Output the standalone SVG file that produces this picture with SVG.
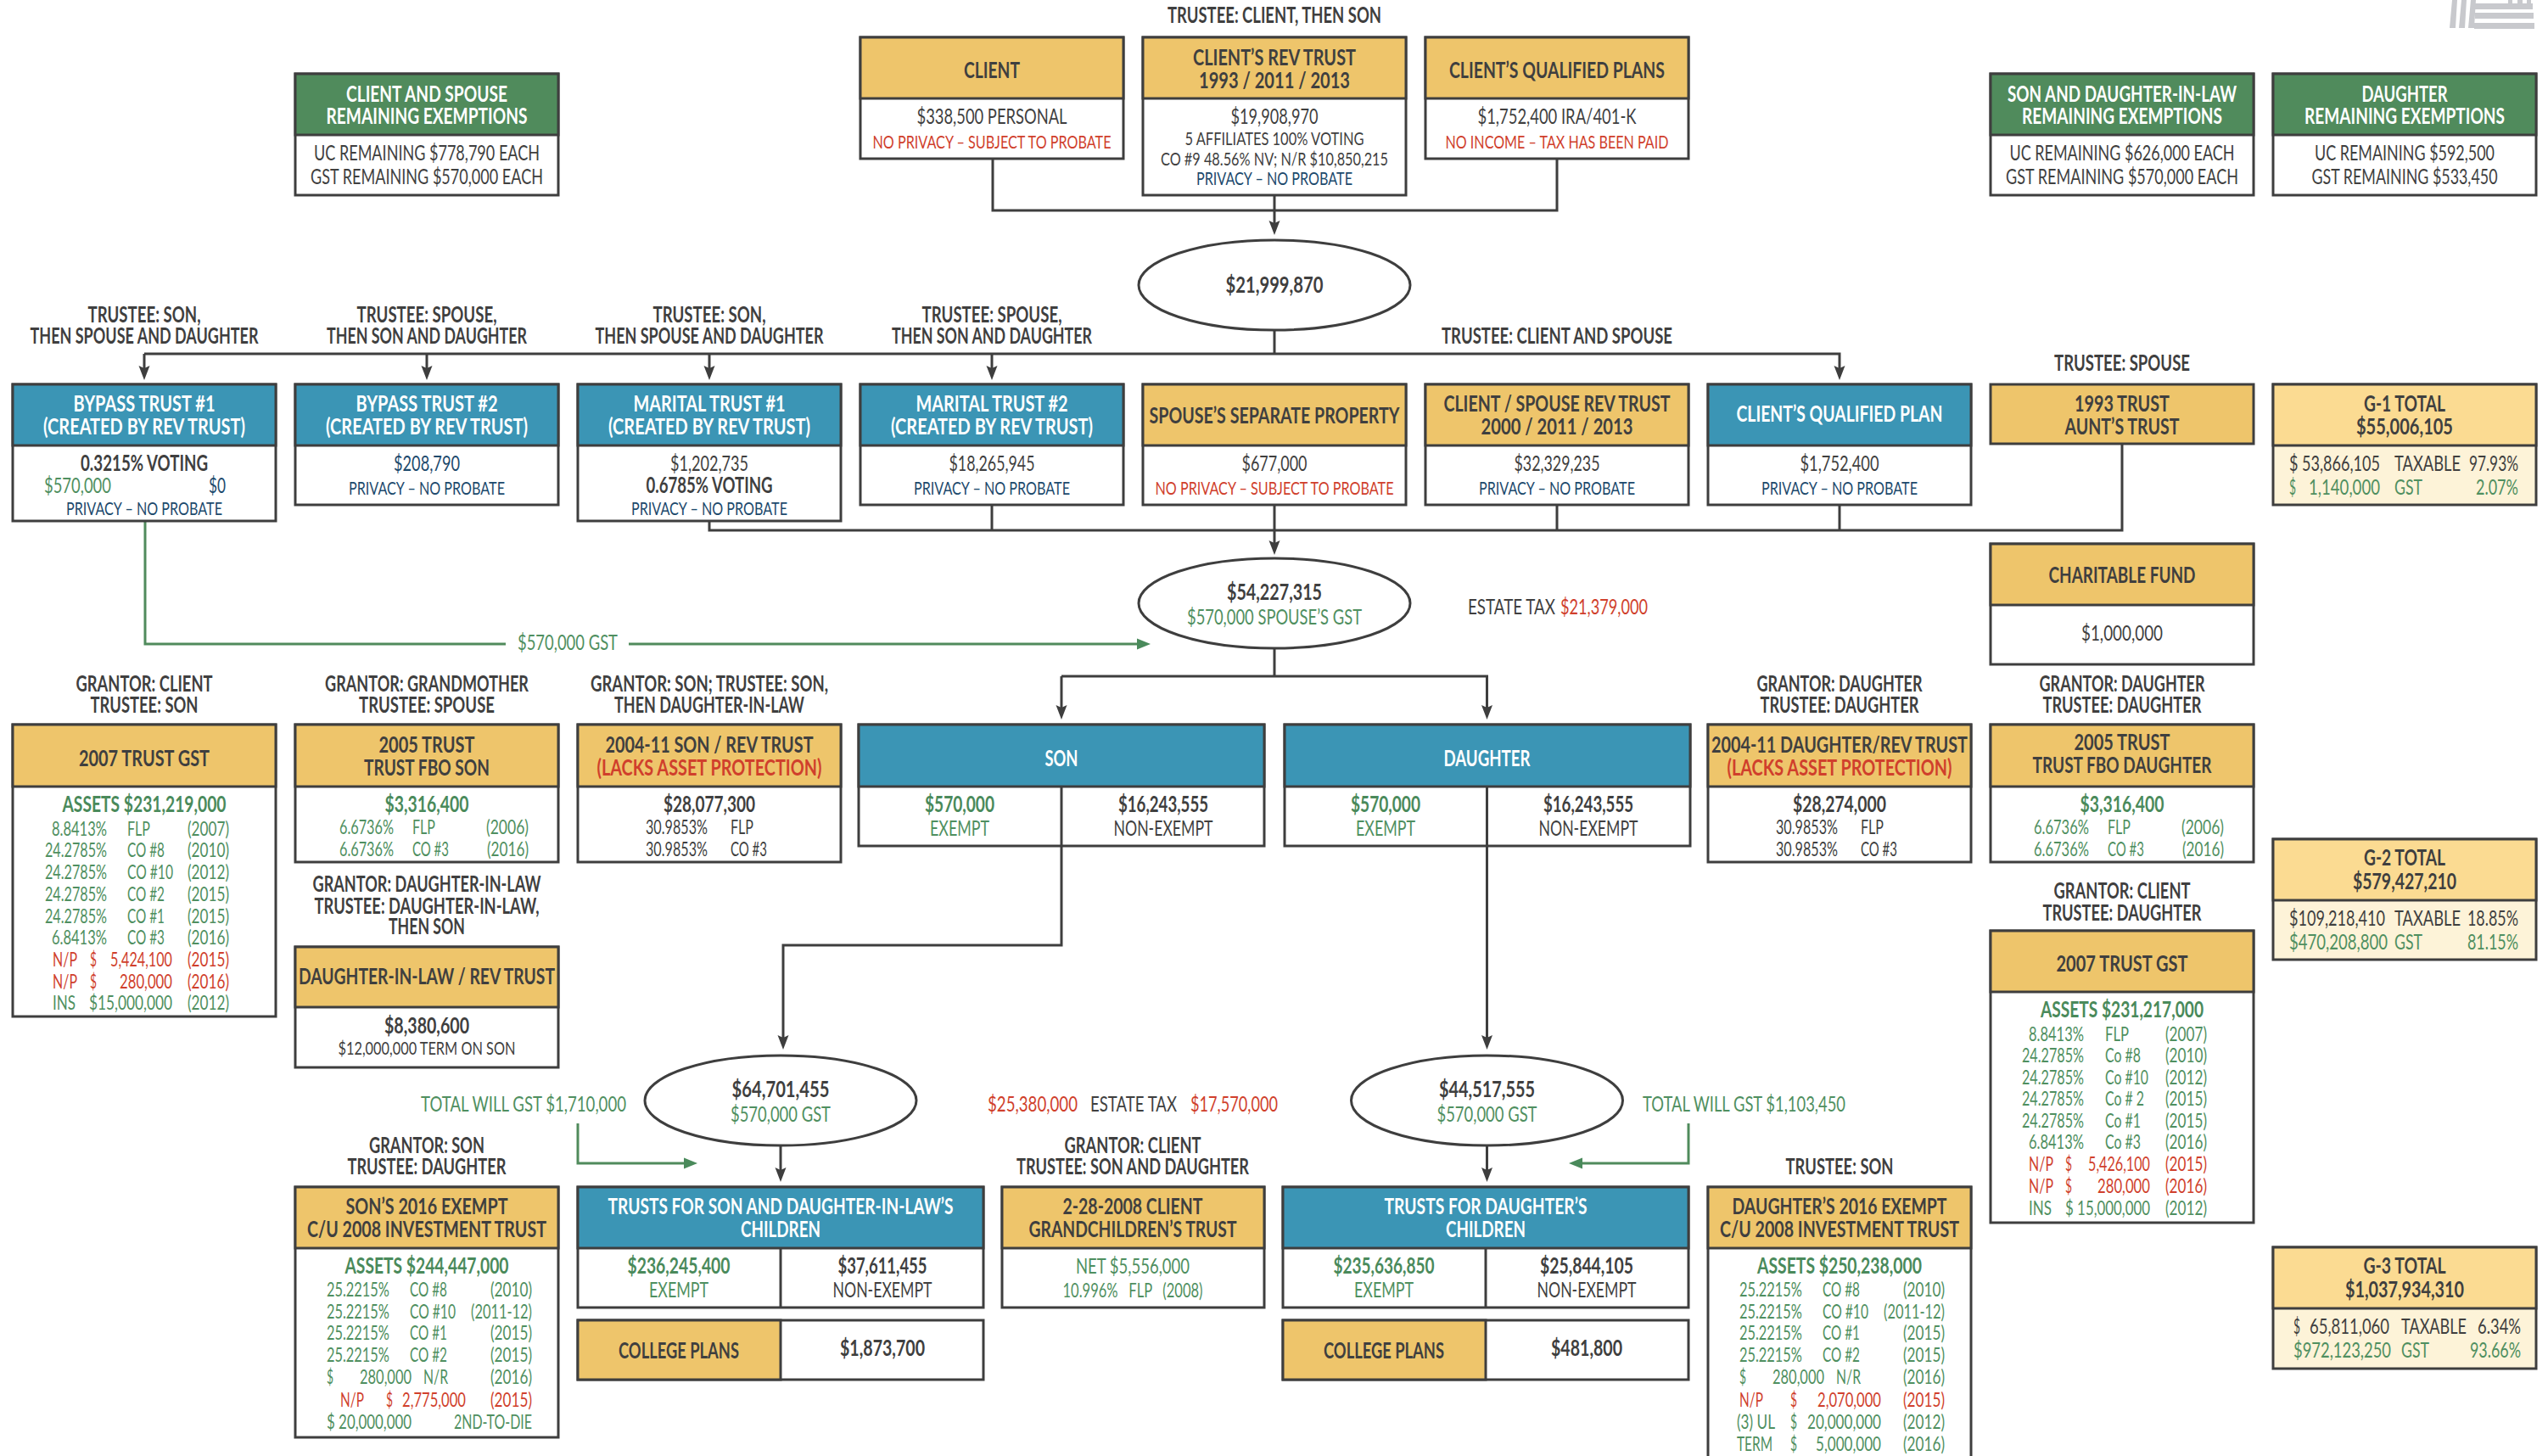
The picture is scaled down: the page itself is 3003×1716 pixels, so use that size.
<svg xmlns="http://www.w3.org/2000/svg" width="3003" height="1716" viewBox="0 0 3003 1716">
<style>
text{font-family:"Lato","Noto Sans",sans-serif;font-size:25px;fill:#3f3f3f}
.m{text-anchor:middle}.e{text-anchor:end}
.b{font-weight:700;font-size:26px}.z{font-size:23px}.x{font-size:22px}
.w{fill:#fff}.r{fill:#d03f2c}.n{fill:#1d4a6d}.g{fill:#4f8f60}
.gb{fill:#4a8a5b}
rect{stroke:#3e3e3e;stroke-width:3}
.o{fill:#fff}.go{fill:#eec56b}.bl{fill:#3b95b5}.gr{fill:#508b5c}.lg{fill:#fbdb92}.pl{fill:#fdf3d8}
ellipse{fill:#fff;stroke:#3e3e3e;stroke-width:3}
.c{fill:none;stroke:#3e3e3e;stroke-width:3}
.cg{fill:none;stroke:#508b5c;stroke-width:3}
.wm{fill:#c8c9cd}
</style>
<defs>
<marker id="a" markerUnits="userSpaceOnUse" markerWidth="20" markerHeight="14" refX="11" refY="7" orient="auto"><path d="M0,0.5L17,7L0,13.5L3,7z" fill="#3e3e3e"/></marker>
<marker id="ag" markerUnits="userSpaceOnUse" markerWidth="18" markerHeight="14" refX="11" refY="7" orient="auto"><path d="M0,0.5L16,7L0,13.5z" fill="#4a8a5b"/></marker>
</defs>
<rect width="3003" height="1716" style="fill:#fff;stroke:none"/>
<g id="watermark">
<path class="wm" d="M2890,0h6l-2,33h-7zM2901,0h6l-2,33h-7zM2912,0h6l-2,33h-7zM2917,4h68v7h-68zM2917,15h69v7h-69zM2916,27h71v7h-71zM2956,0h5v4h-5zM2967,0h6v4h-6zM2978,0h5v4h-5z"/>
</g>
<g id="connectors">
<path class="c" d="M1170,187V248H1835V187"/>
<path class="c" d="M1502,230V271" marker-end="url(#a)"/>
<path class="c" d="M1502,389V417"/>
<path class="c" d="M170,417H2168V442" marker-end="url(#a)"/>
<path class="c" d="M170,417V442" marker-end="url(#a)"/>
<path class="c" d="M503,417V442" marker-end="url(#a)"/>
<path class="c" d="M836,417V442" marker-end="url(#a)"/>
<path class="c" d="M1169,417V442" marker-end="url(#a)"/>
<path class="c" d="M836,614V625H2501V523"/>
<path class="c" d="M1169,595V625M1835,595V625M2168,595V625"/>
<path class="c" d="M1502,595V648" marker-end="url(#a)"/>
<path class="c" d="M1502,764V797"/>
<path class="c" d="M1251,797H1752.500V842" marker-end="url(#a)"/>
<path class="c" d="M1251,797V842" marker-end="url(#a)"/>
<path class="cg" d="M171,614V759H596"/>
<path class="cg" d="M741,759H1351" marker-end="url(#ag)"/>
<path class="c" d="M1251,997V1114H923V1231" marker-end="url(#a)"/>
<path class="c" d="M1752.500,997V1231" marker-end="url(#a)"/>
<path class="c" d="M920,1350V1387" marker-end="url(#a)"/>
<path class="c" d="M1752.500,1350V1387" marker-end="url(#a)"/>
<path class="cg" d="M681,1324V1371H817" marker-end="url(#ag)"/>
<path class="cg" d="M1990,1324V1371H1854" marker-end="url(#ag)"/>
</g>
<g id="flow-labels">
<text x="1502" y="27" class="b m" textLength="252" lengthAdjust="spacingAndGlyphs">TRUSTEE: CLIENT, THEN SON</text>
<text x="170" y="380" class="b m" textLength="133" lengthAdjust="spacingAndGlyphs">TRUSTEE: SON,</text>
<text x="170" y="405" class="b m" textLength="269" lengthAdjust="spacingAndGlyphs">THEN SPOUSE AND DAUGHTER</text>
<text x="503" y="380" class="b m" textLength="165" lengthAdjust="spacingAndGlyphs">TRUSTEE: SPOUSE,</text>
<text x="503" y="405" class="b m" textLength="236" lengthAdjust="spacingAndGlyphs">THEN SON AND DAUGHTER</text>
<text x="836" y="380" class="b m" textLength="133" lengthAdjust="spacingAndGlyphs">TRUSTEE: SON,</text>
<text x="836" y="405" class="b m" textLength="269" lengthAdjust="spacingAndGlyphs">THEN SPOUSE AND DAUGHTER</text>
<text x="1169" y="380" class="b m" textLength="165" lengthAdjust="spacingAndGlyphs">TRUSTEE: SPOUSE,</text>
<text x="1169" y="405" class="b m" textLength="236" lengthAdjust="spacingAndGlyphs">THEN SON AND DAUGHTER</text>
<text x="1835" y="405" class="b m" textLength="272" lengthAdjust="spacingAndGlyphs">TRUSTEE: CLIENT AND SPOUSE</text>
<text x="2501" y="437" class="b m" textLength="160" lengthAdjust="spacingAndGlyphs">TRUSTEE: SPOUSE</text>
<text x="610" y="766" class="g" textLength="118" lengthAdjust="spacingAndGlyphs">$570,000 GST</text>
<text x="1730" y="724" textLength="103" lengthAdjust="spacingAndGlyphs">ESTATE TAX</text>
<text x="1839" y="724" class="r" textLength="103" lengthAdjust="spacingAndGlyphs">$21,379,000</text>
<text x="170" y="815" class="b m" textLength="161" lengthAdjust="spacingAndGlyphs">GRANTOR: CLIENT</text>
<text x="170" y="840" class="b m" textLength="127" lengthAdjust="spacingAndGlyphs">TRUSTEE: SON</text>
<text x="503" y="815" class="b m" textLength="240" lengthAdjust="spacingAndGlyphs">GRANTOR: GRANDMOTHER</text>
<text x="503" y="840" class="b m" textLength="160" lengthAdjust="spacingAndGlyphs">TRUSTEE: SPOUSE</text>
<text x="836" y="815" class="b m" textLength="280" lengthAdjust="spacingAndGlyphs">GRANTOR: SON; TRUSTEE: SON,</text>
<text x="836" y="840" class="b m" textLength="224" lengthAdjust="spacingAndGlyphs">THEN DAUGHTER-IN-LAW</text>
<text x="2168" y="815" class="b m" textLength="195" lengthAdjust="spacingAndGlyphs">GRANTOR: DAUGHTER</text>
<text x="2168" y="840" class="b m" textLength="187" lengthAdjust="spacingAndGlyphs">TRUSTEE: DAUGHTER</text>
<text x="2501" y="815" class="b m" textLength="195" lengthAdjust="spacingAndGlyphs">GRANTOR: DAUGHTER</text>
<text x="2501" y="840" class="b m" textLength="187" lengthAdjust="spacingAndGlyphs">TRUSTEE: DAUGHTER</text>
<text x="503" y="1051" class="b m" textLength="269" lengthAdjust="spacingAndGlyphs">GRANTOR: DAUGHTER-IN-LAW</text>
<text x="503" y="1077" class="b m" textLength="265" lengthAdjust="spacingAndGlyphs">TRUSTEE: DAUGHTER-IN-LAW,</text>
<text x="503" y="1101" class="b m" textLength="90" lengthAdjust="spacingAndGlyphs">THEN SON</text>
<text x="2501" y="1059" class="b m" textLength="161" lengthAdjust="spacingAndGlyphs">GRANTOR: CLIENT</text>
<text x="2501" y="1085" class="b m" textLength="187" lengthAdjust="spacingAndGlyphs">TRUSTEE: DAUGHTER</text>
<text x="496" y="1310" class="g" textLength="242" lengthAdjust="spacingAndGlyphs">TOTAL WILL GST $1,710,000</text>
<text x="1936" y="1310" class="g" textLength="239" lengthAdjust="spacingAndGlyphs">TOTAL WILL GST $1,103,450</text>
<text x="1164" y="1310" class="r" textLength="106" lengthAdjust="spacingAndGlyphs">$25,380,000</text>
<text x="1285" y="1310" textLength="102" lengthAdjust="spacingAndGlyphs">ESTATE TAX</text>
<text x="1403" y="1310" class="r" textLength="103" lengthAdjust="spacingAndGlyphs">$17,570,000</text>
<text x="503" y="1359" class="b m" textLength="136" lengthAdjust="spacingAndGlyphs">GRANTOR: SON</text>
<text x="503" y="1384" class="b m" textLength="187" lengthAdjust="spacingAndGlyphs">TRUSTEE: DAUGHTER</text>
<text x="1335" y="1359" class="b m" textLength="161" lengthAdjust="spacingAndGlyphs">GRANTOR: CLIENT</text>
<text x="1335" y="1384" class="b m" textLength="274" lengthAdjust="spacingAndGlyphs">TRUSTEE: SON AND DAUGHTER</text>
<text x="2168" y="1384" class="b m" textLength="127" lengthAdjust="spacingAndGlyphs">TRUSTEE: SON</text>
</g>
<g id="client">
<rect class="o" x="1014" y="44" width="310" height="143"/><rect class="go" x="1014" y="44" width="310" height="72"/>
<text x="1169" y="92" class="b m" textLength="66" lengthAdjust="spacingAndGlyphs">CLIENT</text>
<text x="1169" y="146" class="m" textLength="177" lengthAdjust="spacingAndGlyphs">$338,500 PERSONAL</text>
<text x="1169" y="175" class="x m r" textLength="281" lengthAdjust="spacingAndGlyphs">NO PRIVACY – SUBJECT TO PROBATE</text>
</g>
<g id="rev-trust">
<rect class="o" x="1347" y="44" width="310" height="186"/><rect class="go" x="1347" y="44" width="310" height="72"/>
<text x="1502" y="77" class="b m" textLength="192" lengthAdjust="spacingAndGlyphs">CLIENT’S REV TRUST</text>
<text x="1502" y="104" class="b m" textLength="178" lengthAdjust="spacingAndGlyphs">1993 / 2011 / 2013</text>
<text x="1502" y="146" class="m" textLength="103" lengthAdjust="spacingAndGlyphs">$19,908,970</text>
<text x="1502" y="171" class="x m" textLength="211" lengthAdjust="spacingAndGlyphs">5 AFFILIATES 100% VOTING</text>
<text x="1502" y="195" class="x m" textLength="268" lengthAdjust="spacingAndGlyphs">CO #9 48.56% NV; N/R $10,850,215</text>
<text x="1502" y="218" class="x m n" textLength="184" lengthAdjust="spacingAndGlyphs">PRIVACY – NO PROBATE</text>
</g>
<g id="qualified-plans">
<rect class="o" x="1680" y="44" width="310" height="143"/><rect class="go" x="1680" y="44" width="310" height="72"/>
<text x="1835" y="92" class="b m" textLength="254" lengthAdjust="spacingAndGlyphs">CLIENT’S QUALIFIED PLANS</text>
<text x="1835" y="146" class="m" textLength="187" lengthAdjust="spacingAndGlyphs">$1,752,400 IRA/401-K</text>
<text x="1835" y="175" class="x m r" textLength="263" lengthAdjust="spacingAndGlyphs">NO INCOME – TAX HAS BEEN PAID</text>
</g>
<g id="exempt-client">
<rect class="o" x="348" y="87" width="310" height="143"/><rect class="gr" x="348" y="87" width="310" height="72"/>
<text x="503" y="120" class="b m w" textLength="190" lengthAdjust="spacingAndGlyphs">CLIENT AND SPOUSE</text>
<text x="503" y="146" class="b m w" textLength="237" lengthAdjust="spacingAndGlyphs">REMAINING EXEMPTIONS</text>
<text x="503" y="189" class="m" textLength="266" lengthAdjust="spacingAndGlyphs">UC REMAINING $778,790 EACH</text>
<text x="503" y="217" class="m" textLength="274" lengthAdjust="spacingAndGlyphs">GST REMAINING $570,000 EACH</text>
</g>
<g id="exempt-son">
<rect class="o" x="2346" y="87" width="310" height="143"/><rect class="gr" x="2346" y="87" width="310" height="72"/>
<text x="2501" y="120" class="b m w" textLength="270" lengthAdjust="spacingAndGlyphs">SON AND DAUGHTER-IN-LAW</text>
<text x="2501" y="146" class="b m w" textLength="236" lengthAdjust="spacingAndGlyphs">REMAINING EXEMPTIONS</text>
<text x="2501" y="189" class="m" textLength="265" lengthAdjust="spacingAndGlyphs">UC REMAINING $626,000 EACH</text>
<text x="2501" y="217" class="m" textLength="274" lengthAdjust="spacingAndGlyphs">GST REMAINING $570,000 EACH</text>
</g>
<g id="exempt-daughter">
<rect class="o" x="2679" y="87" width="310" height="143"/><rect class="gr" x="2679" y="87" width="310" height="72"/>
<text x="2834" y="120" class="b m w" textLength="101" lengthAdjust="spacingAndGlyphs">DAUGHTER</text>
<text x="2834" y="146" class="b m w" textLength="236" lengthAdjust="spacingAndGlyphs">REMAINING EXEMPTIONS</text>
<text x="2834" y="189" class="m" textLength="212" lengthAdjust="spacingAndGlyphs">UC REMAINING $592,500</text>
<text x="2834" y="217" class="m" textLength="219" lengthAdjust="spacingAndGlyphs">GST REMAINING $533,450</text>
</g>
<g id="total-1">
<ellipse cx="1502" cy="336" rx="160" ry="53"/>
<text x="1502" y="345" class="b m" textLength="115" lengthAdjust="spacingAndGlyphs">$21,999,870</text>
</g>
<g id="bypass-1">
<rect class="o" x="15" y="453" width="310" height="161"/><rect class="bl" x="15" y="453" width="310" height="72"/>
<text x="170" y="485" class="b m w" textLength="167" lengthAdjust="spacingAndGlyphs">BYPASS TRUST #1</text>
<text x="170" y="512" class="b m w" textLength="238" lengthAdjust="spacingAndGlyphs">(CREATED BY REV TRUST)</text>
<text x="170" y="555" class="b m" textLength="150" lengthAdjust="spacingAndGlyphs">0.3215% VOTING</text>
<text x="52" y="581" class="g" textLength="79" lengthAdjust="spacingAndGlyphs">$570,000</text>
<text x="246" y="581" class="n" textLength="20" lengthAdjust="spacingAndGlyphs">$0</text>
<text x="170" y="607" class="x m n" textLength="184" lengthAdjust="spacingAndGlyphs">PRIVACY – NO PROBATE</text>
</g>
<g id="bypass-2">
<rect class="o" x="348" y="453" width="310" height="142"/><rect class="bl" x="348" y="453" width="310" height="72"/>
<text x="503" y="485" class="b m w" textLength="167" lengthAdjust="spacingAndGlyphs">BYPASS TRUST #2</text>
<text x="503" y="512" class="b m w" textLength="238" lengthAdjust="spacingAndGlyphs">(CREATED BY REV TRUST)</text>
<text x="503" y="555" class="m n" textLength="78" lengthAdjust="spacingAndGlyphs">$208,790</text>
<text x="503" y="583" class="x m n" textLength="184" lengthAdjust="spacingAndGlyphs">PRIVACY – NO PROBATE</text>
</g>
<g id="marital-1">
<rect class="o" x="681" y="453" width="310" height="161"/><rect class="bl" x="681" y="453" width="310" height="72"/>
<text x="836" y="485" class="b m w" textLength="179" lengthAdjust="spacingAndGlyphs">MARITAL TRUST #1</text>
<text x="836" y="512" class="b m w" textLength="238" lengthAdjust="spacingAndGlyphs">(CREATED BY REV TRUST)</text>
<text x="836" y="555" class="m" textLength="92" lengthAdjust="spacingAndGlyphs">$1,202,735</text>
<text x="836" y="581" class="b m" textLength="149" lengthAdjust="spacingAndGlyphs">0.6785% VOTING</text>
<text x="836" y="607" class="x m n" textLength="184" lengthAdjust="spacingAndGlyphs">PRIVACY – NO PROBATE</text>
</g>
<g id="marital-2">
<rect class="o" x="1014" y="453" width="310" height="142"/><rect class="bl" x="1014" y="453" width="310" height="72"/>
<text x="1169" y="485" class="b m w" textLength="179" lengthAdjust="spacingAndGlyphs">MARITAL TRUST #2</text>
<text x="1169" y="512" class="b m w" textLength="238" lengthAdjust="spacingAndGlyphs">(CREATED BY REV TRUST)</text>
<text x="1169" y="555" class="m" textLength="101" lengthAdjust="spacingAndGlyphs">$18,265,945</text>
<text x="1169" y="583" class="x m n" textLength="184" lengthAdjust="spacingAndGlyphs">PRIVACY – NO PROBATE</text>
</g>
<g id="spouse-property">
<rect class="o" x="1347" y="453" width="310" height="142"/><rect class="go" x="1347" y="453" width="310" height="72"/>
<text x="1502" y="499" class="b m" textLength="295" lengthAdjust="spacingAndGlyphs">SPOUSE’S SEPARATE PROPERTY</text>
<text x="1502" y="555" class="m" textLength="77" lengthAdjust="spacingAndGlyphs">$677,000</text>
<text x="1502" y="583" class="x m r" textLength="281" lengthAdjust="spacingAndGlyphs">NO PRIVACY – SUBJECT TO PROBATE</text>
</g>
<g id="client-spouse-rev">
<rect class="o" x="1680" y="453" width="310" height="142"/><rect class="go" x="1680" y="453" width="310" height="72"/>
<text x="1835" y="485" class="b m" textLength="267" lengthAdjust="spacingAndGlyphs">CLIENT / SPOUSE REV TRUST</text>
<text x="1835" y="512" class="b m" textLength="179" lengthAdjust="spacingAndGlyphs">2000 / 2011 / 2013</text>
<text x="1835" y="555" class="m" textLength="101" lengthAdjust="spacingAndGlyphs">$32,329,235</text>
<text x="1835" y="583" class="x m n" textLength="184" lengthAdjust="spacingAndGlyphs">PRIVACY – NO PROBATE</text>
</g>
<g id="qualified-plan">
<rect class="o" x="2013" y="453" width="310" height="142"/><rect class="bl" x="2013" y="453" width="310" height="72"/>
<text x="2168" y="497" class="b m w" textLength="243" lengthAdjust="spacingAndGlyphs">CLIENT’S QUALIFIED PLAN</text>
<text x="2168" y="555" class="m" textLength="93" lengthAdjust="spacingAndGlyphs">$1,752,400</text>
<text x="2168" y="583" class="x m n" textLength="184" lengthAdjust="spacingAndGlyphs">PRIVACY – NO PROBATE</text>
</g>
<g id="aunt-trust">
<rect class="go" x="2346" y="453" width="310" height="70"/>
<text x="2501" y="485" class="b m" textLength="112" lengthAdjust="spacingAndGlyphs">1993 TRUST</text>
<text x="2501" y="512" class="b m" textLength="135" lengthAdjust="spacingAndGlyphs">AUNT’S TRUST</text>
</g>
<g id="g1-total">
<rect class="pl" x="2679" y="453" width="310" height="142"/><rect class="lg" x="2679" y="453" width="310" height="72"/>
<text x="2834" y="485" class="b m" textLength="96" lengthAdjust="spacingAndGlyphs">G-1 TOTAL</text>
<text x="2834" y="512" class="b m" textLength="114" lengthAdjust="spacingAndGlyphs">$55,006,105</text>
<text x="2698" y="555" textLength="107" lengthAdjust="spacingAndGlyphs">$ 53,866,105</text>
<text x="2822" y="555" textLength="78" lengthAdjust="spacingAndGlyphs">TAXABLE</text>
<text x="2968" y="555" class="e" textLength="58" lengthAdjust="spacingAndGlyphs">97.93%</text>
<text x="2698" y="583" class="g" textLength="8" lengthAdjust="spacingAndGlyphs">$</text>
<text x="2721" y="583" class="g" textLength="84" lengthAdjust="spacingAndGlyphs">1,140,000</text>
<text x="2822" y="583" class="g" textLength="33" lengthAdjust="spacingAndGlyphs">GST</text>
<text x="2968" y="583" class="g e" textLength="50" lengthAdjust="spacingAndGlyphs">2.07%</text>
</g>
<g id="total-2">
<ellipse cx="1502" cy="711" rx="160" ry="53"/>
<text x="1502" y="707" class="b m" textLength="112" lengthAdjust="spacingAndGlyphs">$54,227,315</text>
<text x="1502" y="736" class="m g" textLength="206" lengthAdjust="spacingAndGlyphs">$570,000 SPOUSE’S GST</text>
</g>
<g id="charitable">
<rect class="o" x="2346" y="641" width="310" height="142"/><rect class="go" x="2346" y="641" width="310" height="72"/>
<text x="2501" y="687" class="b m" textLength="173" lengthAdjust="spacingAndGlyphs">CHARITABLE FUND</text>
<text x="2501" y="755" class="m" textLength="96" lengthAdjust="spacingAndGlyphs">$1,000,000</text>
</g>
<g id="trust-2007-son">
<rect class="o" x="15" y="854" width="310" height="344"/><rect class="go" x="15" y="854" width="310" height="73"/>
<text x="170" y="903" class="b m" textLength="154" lengthAdjust="spacingAndGlyphs">2007 TRUST GST</text>
<text x="170" y="957" class="b m gb" textLength="193" lengthAdjust="spacingAndGlyphs">ASSETS $231,219,000</text>
<text x="126" y="985" class="z e g" textLength="65" lengthAdjust="spacingAndGlyphs">8.8413%</text><text x="150" y="985" class="z g" textLength="27" lengthAdjust="spacingAndGlyphs">FLP</text><text x="270" y="985" class="z e g" textLength="49" lengthAdjust="spacingAndGlyphs">(2007)</text>
<text x="126" y="1010" class="z e g" textLength="73" lengthAdjust="spacingAndGlyphs">24.2785%</text><text x="150" y="1010" class="z g" textLength="44" lengthAdjust="spacingAndGlyphs">CO #8</text><text x="270" y="1010" class="z e g" textLength="49" lengthAdjust="spacingAndGlyphs">(2010)</text>
<text x="126" y="1036" class="z e g" textLength="73" lengthAdjust="spacingAndGlyphs">24.2785%</text><text x="150" y="1036" class="z g" textLength="54" lengthAdjust="spacingAndGlyphs">CO #10</text><text x="270" y="1036" class="z e g" textLength="49" lengthAdjust="spacingAndGlyphs">(2012)</text>
<text x="126" y="1062" class="z e g" textLength="73" lengthAdjust="spacingAndGlyphs">24.2785%</text><text x="150" y="1062" class="z g" textLength="44" lengthAdjust="spacingAndGlyphs">CO #2</text><text x="270" y="1062" class="z e g" textLength="49" lengthAdjust="spacingAndGlyphs">(2015)</text>
<text x="126" y="1088" class="z e g" textLength="73" lengthAdjust="spacingAndGlyphs">24.2785%</text><text x="150" y="1088" class="z g" textLength="44" lengthAdjust="spacingAndGlyphs">CO #1</text><text x="270" y="1088" class="z e g" textLength="49" lengthAdjust="spacingAndGlyphs">(2015)</text>
<text x="126" y="1113" class="z e g" textLength="65" lengthAdjust="spacingAndGlyphs">6.8413%</text><text x="150" y="1113" class="z g" textLength="44" lengthAdjust="spacingAndGlyphs">CO #3</text><text x="270" y="1113" class="z e g" textLength="49" lengthAdjust="spacingAndGlyphs">(2016)</text>
<text x="62" y="1139" class="z r" textLength="29" lengthAdjust="spacingAndGlyphs">N/P</text><text x="106" y="1139" class="z r" textLength="8" lengthAdjust="spacingAndGlyphs">$</text><text x="203" y="1139" class="z e r" textLength="73" lengthAdjust="spacingAndGlyphs">5,424,100</text><text x="270" y="1139" class="z e r" textLength="49" lengthAdjust="spacingAndGlyphs">(2015)</text>
<text x="62" y="1165" class="z r" textLength="29" lengthAdjust="spacingAndGlyphs">N/P</text><text x="106" y="1165" class="z r" textLength="8" lengthAdjust="spacingAndGlyphs">$</text><text x="203" y="1165" class="z e r" textLength="62" lengthAdjust="spacingAndGlyphs">280,000</text><text x="270" y="1165" class="z e r" textLength="49" lengthAdjust="spacingAndGlyphs">(2016)</text>
<text x="62" y="1190" class="z g" textLength="27" lengthAdjust="spacingAndGlyphs">INS</text><text x="203" y="1190" class="z e g" textLength="98" lengthAdjust="spacingAndGlyphs">$15,000,000</text><text x="270" y="1190" class="z e g" textLength="49" lengthAdjust="spacingAndGlyphs">(2012)</text>
</g>
<g id="trust-2005-son">
<rect class="o" x="348" y="854" width="310" height="162"/><rect class="go" x="348" y="854" width="310" height="73"/>
<text x="503" y="887" class="b m" textLength="113" lengthAdjust="spacingAndGlyphs">2005 TRUST</text>
<text x="503" y="914" class="b m" textLength="148" lengthAdjust="spacingAndGlyphs">TRUST FBO SON</text>
<text x="503" y="957" class="b m gb" textLength="99" lengthAdjust="spacingAndGlyphs">$3,316,400</text>
<text x="400" y="983" class="z g" textLength="64" lengthAdjust="spacingAndGlyphs">6.6736%</text><text x="486" y="983" class="z g" textLength="27" lengthAdjust="spacingAndGlyphs">FLP</text><text x="623" y="983" class="z e g" textLength="50" lengthAdjust="spacingAndGlyphs">(2006)</text>
<text x="400" y="1009" class="z g" textLength="64" lengthAdjust="spacingAndGlyphs">6.6736%</text><text x="486" y="1009" class="z g" textLength="43" lengthAdjust="spacingAndGlyphs">CO #3</text><text x="623" y="1009" class="z e g" textLength="49" lengthAdjust="spacingAndGlyphs">(2016)</text>
</g>
<g id="son-rev-trust">
<rect class="o" x="681" y="854" width="310" height="162"/><rect class="go" x="681" y="854" width="310" height="73"/>
<text x="836" y="887" class="b m" textLength="245" lengthAdjust="spacingAndGlyphs">2004-11 SON / REV TRUST</text>
<text x="836" y="914" class="b m r" textLength="265" lengthAdjust="spacingAndGlyphs">(LACKS ASSET PROTECTION)</text>
<text x="836" y="957" class="b m" textLength="108" lengthAdjust="spacingAndGlyphs">$28,077,300</text>
<text x="761" y="983" class="z" textLength="73" lengthAdjust="spacingAndGlyphs">30.9853%</text><text x="861" y="983" class="z" textLength="27" lengthAdjust="spacingAndGlyphs">FLP</text>
<text x="761" y="1009" class="z" textLength="73" lengthAdjust="spacingAndGlyphs">30.9853%</text><text x="861" y="1009" class="z" textLength="43" lengthAdjust="spacingAndGlyphs">CO #3</text>
</g>
<g id="son">
<rect class="o" x="1012" y="854" width="478" height="143"/><rect class="bl" x="1012" y="854" width="478" height="73"/>
<path class="c" d="M1251,927V997"/>
<text x="1251" y="903" class="b m w" textLength="39" lengthAdjust="spacingAndGlyphs">SON</text>
<text x="1131" y="957" class="b m gb" textLength="82" lengthAdjust="spacingAndGlyphs">$570,000</text>
<text x="1131" y="985" class="m g" textLength="70" lengthAdjust="spacingAndGlyphs">EXEMPT</text>
<text x="1371" y="957" class="b m" textLength="106" lengthAdjust="spacingAndGlyphs">$16,243,555</text>
<text x="1371" y="985" class="m" textLength="117" lengthAdjust="spacingAndGlyphs">NON-EXEMPT</text>
</g>
<g id="daughter">
<rect class="o" x="1514" y="854" width="478" height="143"/><rect class="bl" x="1514" y="854" width="478" height="73"/>
<path class="c" d="M1752.500,927V997"/>
<text x="1752.500" y="903" class="b m w" textLength="102" lengthAdjust="spacingAndGlyphs">DAUGHTER</text>
<text x="1633" y="957" class="b m gb" textLength="82" lengthAdjust="spacingAndGlyphs">$570,000</text>
<text x="1633" y="985" class="m g" textLength="70" lengthAdjust="spacingAndGlyphs">EXEMPT</text>
<text x="1872" y="957" class="b m" textLength="106" lengthAdjust="spacingAndGlyphs">$16,243,555</text>
<text x="1872" y="985" class="m" textLength="117" lengthAdjust="spacingAndGlyphs">NON-EXEMPT</text>
</g>
<g id="daughter-rev-trust">
<rect class="o" x="2013" y="854" width="310" height="162"/><rect class="go" x="2013" y="854" width="310" height="73"/>
<text x="2168" y="887" class="b m" textLength="302" lengthAdjust="spacingAndGlyphs">2004-11 DAUGHTER/REV TRUST</text>
<text x="2168" y="914" class="b m r" textLength="265" lengthAdjust="spacingAndGlyphs">(LACKS ASSET PROTECTION)</text>
<text x="2168" y="957" class="b m" textLength="110" lengthAdjust="spacingAndGlyphs">$28,274,000</text>
<text x="2093" y="983" class="z" textLength="73" lengthAdjust="spacingAndGlyphs">30.9853%</text><text x="2193" y="983" class="z" textLength="27" lengthAdjust="spacingAndGlyphs">FLP</text>
<text x="2093" y="1009" class="z" textLength="73" lengthAdjust="spacingAndGlyphs">30.9853%</text><text x="2193" y="1009" class="z" textLength="43" lengthAdjust="spacingAndGlyphs">CO #3</text>
</g>
<g id="trust-2005-daughter">
<rect class="o" x="2346" y="854" width="310" height="162"/><rect class="go" x="2346" y="854" width="310" height="73"/>
<text x="2501" y="884" class="b m" textLength="113" lengthAdjust="spacingAndGlyphs">2005 TRUST</text>
<text x="2501" y="911" class="b m" textLength="211" lengthAdjust="spacingAndGlyphs">TRUST FBO DAUGHTER</text>
<text x="2501" y="957" class="b m gb" textLength="99" lengthAdjust="spacingAndGlyphs">$3,316,400</text>
<text x="2397" y="983" class="z g" textLength="65" lengthAdjust="spacingAndGlyphs">6.6736%</text><text x="2484" y="983" class="z g" textLength="27" lengthAdjust="spacingAndGlyphs">FLP</text><text x="2621" y="983" class="z e g" textLength="50" lengthAdjust="spacingAndGlyphs">(2006)</text>
<text x="2397" y="1009" class="z g" textLength="65" lengthAdjust="spacingAndGlyphs">6.6736%</text><text x="2484" y="1009" class="z g" textLength="43" lengthAdjust="spacingAndGlyphs">CO #3</text><text x="2621" y="1009" class="z e g" textLength="49" lengthAdjust="spacingAndGlyphs">(2016)</text>
</g>
<g id="g2-total">
<rect class="pl" x="2679" y="989" width="310" height="142"/><rect class="lg" x="2679" y="989" width="310" height="72"/>
<text x="2834" y="1020" class="b m" textLength="96" lengthAdjust="spacingAndGlyphs">G-2 TOTAL</text>
<text x="2834" y="1048" class="b m" textLength="122" lengthAdjust="spacingAndGlyphs">$579,427,210</text>
<text x="2698" y="1091" textLength="113" lengthAdjust="spacingAndGlyphs">$109,218,410</text>
<text x="2822" y="1091" textLength="78" lengthAdjust="spacingAndGlyphs">TAXABLE</text>
<text x="2968" y="1091" class="e" textLength="60" lengthAdjust="spacingAndGlyphs">18.85%</text>
<text x="2698" y="1119" class="g" textLength="116" lengthAdjust="spacingAndGlyphs">$470,208,800</text>
<text x="2822" y="1119" class="g" textLength="33" lengthAdjust="spacingAndGlyphs">GST</text>
<text x="2968" y="1119" class="g e" textLength="60" lengthAdjust="spacingAndGlyphs">81.15%</text>
</g>
<g id="dil-rev-trust">
<rect class="o" x="348" y="1116" width="310" height="142"/><rect class="go" x="348" y="1116" width="310" height="71"/>
<text x="503" y="1160" class="b m" textLength="302" lengthAdjust="spacingAndGlyphs">DAUGHTER-IN-LAW / REV TRUST</text>
<text x="503" y="1218" class="b m" textLength="100" lengthAdjust="spacingAndGlyphs">$8,380,600</text>
<text x="503" y="1243" class="x m" textLength="209" lengthAdjust="spacingAndGlyphs">$12,000,000 TERM ON SON</text>
</g>
<g id="trust-2007-daughter">
<rect class="o" x="2346" y="1097" width="310" height="344"/><rect class="go" x="2346" y="1097" width="310" height="72"/>
<text x="2501" y="1145" class="b m" textLength="155" lengthAdjust="spacingAndGlyphs">2007 TRUST GST</text>
<text x="2501" y="1199" class="b m gb" textLength="192" lengthAdjust="spacingAndGlyphs">ASSETS $231,217,000</text>
<text x="2456" y="1227" class="z e g" textLength="65" lengthAdjust="spacingAndGlyphs">8.8413%</text><text x="2481" y="1227" class="z g" textLength="28" lengthAdjust="spacingAndGlyphs">FLP</text><text x="2601" y="1227" class="z e g" textLength="49" lengthAdjust="spacingAndGlyphs">(2007)</text>
<text x="2456" y="1252" class="z e g" textLength="73" lengthAdjust="spacingAndGlyphs">24.2785%</text><text x="2481" y="1252" class="z g" textLength="42" lengthAdjust="spacingAndGlyphs">Co #8</text><text x="2601" y="1252" class="z e g" textLength="49" lengthAdjust="spacingAndGlyphs">(2010)</text>
<text x="2456" y="1278" class="z e g" textLength="73" lengthAdjust="spacingAndGlyphs">24.2785%</text><text x="2481" y="1278" class="z g" textLength="51" lengthAdjust="spacingAndGlyphs">Co #10</text><text x="2601" y="1278" class="z e g" textLength="49" lengthAdjust="spacingAndGlyphs">(2012)</text>
<text x="2456" y="1303" class="z e g" textLength="73" lengthAdjust="spacingAndGlyphs">24.2785%</text><text x="2481" y="1303" class="z g" textLength="46" lengthAdjust="spacingAndGlyphs">Co # 2</text><text x="2601" y="1303" class="z e g" textLength="49" lengthAdjust="spacingAndGlyphs">(2015)</text>
<text x="2456" y="1329" class="z e g" textLength="73" lengthAdjust="spacingAndGlyphs">24.2785%</text><text x="2481" y="1329" class="z g" textLength="42" lengthAdjust="spacingAndGlyphs">Co #1</text><text x="2601" y="1329" class="z e g" textLength="49" lengthAdjust="spacingAndGlyphs">(2015)</text>
<text x="2456" y="1354" class="z e g" textLength="65" lengthAdjust="spacingAndGlyphs">6.8413%</text><text x="2481" y="1354" class="z g" textLength="42" lengthAdjust="spacingAndGlyphs">Co #3</text><text x="2601" y="1354" class="z e g" textLength="49" lengthAdjust="spacingAndGlyphs">(2016)</text>
<text x="2391" y="1380" class="z r" textLength="29" lengthAdjust="spacingAndGlyphs">N/P</text><text x="2434" y="1380" class="z r" textLength="8" lengthAdjust="spacingAndGlyphs">$</text><text x="2534" y="1380" class="z e r" textLength="73" lengthAdjust="spacingAndGlyphs">5,426,100</text><text x="2601" y="1380" class="z e r" textLength="49" lengthAdjust="spacingAndGlyphs">(2015)</text>
<text x="2391" y="1406" class="z r" textLength="29" lengthAdjust="spacingAndGlyphs">N/P</text><text x="2434" y="1406" class="z r" textLength="8" lengthAdjust="spacingAndGlyphs">$</text><text x="2534" y="1406" class="z e r" textLength="62" lengthAdjust="spacingAndGlyphs">280,000</text><text x="2601" y="1406" class="z e r" textLength="49" lengthAdjust="spacingAndGlyphs">(2016)</text>
<text x="2391" y="1432" class="z g" textLength="27" lengthAdjust="spacingAndGlyphs">INS</text><text x="2534" y="1432" class="z e g" textLength="100" lengthAdjust="spacingAndGlyphs">$ 15,000,000</text><text x="2601" y="1432" class="z e g" textLength="49" lengthAdjust="spacingAndGlyphs">(2012)</text>
</g>
<g id="total-son">
<ellipse cx="920" cy="1297" rx="160" ry="53"/>
<text x="920" y="1293" class="b m" textLength="115" lengthAdjust="spacingAndGlyphs">$64,701,455</text>
<text x="920" y="1322" class="m g" textLength="118" lengthAdjust="spacingAndGlyphs">$570,000 GST</text>
</g>
<g id="total-daughter">
<ellipse cx="1752.500" cy="1297" rx="160" ry="53"/>
<text x="1752.500" y="1293" class="b m" textLength="113" lengthAdjust="spacingAndGlyphs">$44,517,555</text>
<text x="1752.500" y="1322" class="m g" textLength="118" lengthAdjust="spacingAndGlyphs">$570,000 GST</text>
</g>
<g id="son-2016">
<rect class="o" x="348" y="1399" width="310" height="295"/><rect class="go" x="348" y="1399" width="310" height="72"/>
<text x="503" y="1431" class="b m" textLength="191" lengthAdjust="spacingAndGlyphs">SON’S 2016 EXEMPT</text>
<text x="503" y="1458" class="b m" textLength="282" lengthAdjust="spacingAndGlyphs">C/U 2008 INVESTMENT TRUST</text>
<text x="503" y="1501" class="b m gb" textLength="193" lengthAdjust="spacingAndGlyphs">ASSETS $244,447,000</text>
<text x="385" y="1528" class="z g" textLength="74" lengthAdjust="spacingAndGlyphs">25.2215%</text><text x="483" y="1528" class="z g" textLength="44" lengthAdjust="spacingAndGlyphs">CO #8</text><text x="627" y="1528" class="z e g" textLength="49" lengthAdjust="spacingAndGlyphs">(2010)</text>
<text x="385" y="1554" class="z g" textLength="74" lengthAdjust="spacingAndGlyphs">25.2215%</text><text x="483" y="1554" class="z g" textLength="54" lengthAdjust="spacingAndGlyphs">CO #10</text><text x="627" y="1554" class="z e g" textLength="72" lengthAdjust="spacingAndGlyphs">(2011-12)</text>
<text x="385" y="1579" class="z g" textLength="74" lengthAdjust="spacingAndGlyphs">25.2215%</text><text x="483" y="1579" class="z g" textLength="44" lengthAdjust="spacingAndGlyphs">CO #1</text><text x="627" y="1579" class="z e g" textLength="49" lengthAdjust="spacingAndGlyphs">(2015)</text>
<text x="385" y="1605" class="z g" textLength="74" lengthAdjust="spacingAndGlyphs">25.2215%</text><text x="483" y="1605" class="z g" textLength="44" lengthAdjust="spacingAndGlyphs">CO #2</text><text x="627" y="1605" class="z e g" textLength="49" lengthAdjust="spacingAndGlyphs">(2015)</text>
<text x="385" y="1631" class="z g" textLength="8" lengthAdjust="spacingAndGlyphs">$</text><text x="485" y="1631" class="z e g" textLength="61" lengthAdjust="spacingAndGlyphs">280,000</text><text x="499" y="1631" class="z g" textLength="29" lengthAdjust="spacingAndGlyphs">N/R</text><text x="627" y="1631" class="z e g" textLength="49" lengthAdjust="spacingAndGlyphs">(2016)</text>
<text x="401" y="1658" class="z r" textLength="28" lengthAdjust="spacingAndGlyphs">N/P</text><text x="455" y="1658" class="z r" textLength="8" lengthAdjust="spacingAndGlyphs">$</text><text x="549" y="1658" class="z e r" textLength="75" lengthAdjust="spacingAndGlyphs">2,775,000</text><text x="627" y="1658" class="z e r" textLength="49" lengthAdjust="spacingAndGlyphs">(2015)</text>
<text x="385" y="1684" class="z g" textLength="100" lengthAdjust="spacingAndGlyphs">$ 20,000,000</text><text x="627" y="1684" class="z e g" textLength="92" lengthAdjust="spacingAndGlyphs">2ND-TO-DIE</text>
</g>
<g id="trusts-son-children">
<rect class="o" x="681" y="1399" width="478" height="142"/><rect class="bl" x="681" y="1399" width="478" height="72"/>
<path class="c" d="M920,1471V1541"/>
<text x="920" y="1431" class="b m w" textLength="407" lengthAdjust="spacingAndGlyphs">TRUSTS FOR SON AND DAUGHTER-IN-LAW’S</text>
<text x="920" y="1458" class="b m w" textLength="94" lengthAdjust="spacingAndGlyphs">CHILDREN</text>
<text x="800" y="1501" class="b m gb" textLength="121" lengthAdjust="spacingAndGlyphs">$236,245,400</text>
<text x="800" y="1529" class="m g" textLength="70" lengthAdjust="spacingAndGlyphs">EXEMPT</text>
<text x="1040" y="1501" class="b m" textLength="105" lengthAdjust="spacingAndGlyphs">$37,611,455</text>
<text x="1040" y="1529" class="m" textLength="117" lengthAdjust="spacingAndGlyphs">NON-EXEMPT</text>
</g>
<g id="college-son">
<rect class="o" x="681" y="1556" width="478" height="70"/><rect class="go" x="681" y="1556" width="239" height="70"/>
<text x="800" y="1601" class="b m" textLength="142" lengthAdjust="spacingAndGlyphs">COLLEGE PLANS</text>
<text x="1040" y="1598" class="b m" textLength="100" lengthAdjust="spacingAndGlyphs">$1,873,700</text>
</g>
<g id="grandchildren-trust">
<rect class="o" x="1181" y="1399" width="309" height="142"/><rect class="go" x="1181" y="1399" width="309" height="72"/>
<text x="1335" y="1431" class="b m" textLength="165" lengthAdjust="spacingAndGlyphs">2-28-2008 CLIENT</text>
<text x="1335" y="1458" class="b m" textLength="245" lengthAdjust="spacingAndGlyphs">GRANDCHILDREN’S TRUST</text>
<text x="1335" y="1501" class="m g" textLength="134" lengthAdjust="spacingAndGlyphs">NET $5,556,000</text>
<text x="1335" y="1529" class="z m g" textLength="165" lengthAdjust="spacingAndGlyphs" xml:space="preserve">10.996%   FLP   (2008)</text>
</g>
<g id="trusts-daughter-children">
<rect class="o" x="1512" y="1399" width="478" height="142"/><rect class="bl" x="1512" y="1399" width="478" height="72"/>
<path class="c" d="M1751,1471V1541"/>
<text x="1751" y="1431" class="b m w" textLength="239" lengthAdjust="spacingAndGlyphs">TRUSTS FOR DAUGHTER’S</text>
<text x="1751" y="1458" class="b m w" textLength="94" lengthAdjust="spacingAndGlyphs">CHILDREN</text>
<text x="1631" y="1501" class="b m gb" textLength="119" lengthAdjust="spacingAndGlyphs">$235,636,850</text>
<text x="1631" y="1529" class="m g" textLength="70" lengthAdjust="spacingAndGlyphs">EXEMPT</text>
<text x="1870" y="1501" class="b m" textLength="110" lengthAdjust="spacingAndGlyphs">$25,844,105</text>
<text x="1870" y="1529" class="m" textLength="117" lengthAdjust="spacingAndGlyphs">NON-EXEMPT</text>
</g>
<g id="college-daughter">
<rect class="o" x="1512" y="1556" width="478" height="70"/><rect class="go" x="1512" y="1556" width="239" height="70"/>
<text x="1631" y="1601" class="b m" textLength="142" lengthAdjust="spacingAndGlyphs">COLLEGE PLANS</text>
<text x="1870" y="1598" class="b m" textLength="84" lengthAdjust="spacingAndGlyphs">$481,800</text>
</g>
<g id="daughter-2016">
<rect class="o" x="2013" y="1399" width="310" height="330"/><rect class="go" x="2013" y="1399" width="310" height="72"/>
<text x="2168" y="1431" class="b m" textLength="253" lengthAdjust="spacingAndGlyphs">DAUGHTER’S 2016 EXEMPT</text>
<text x="2168" y="1458" class="b m" textLength="282" lengthAdjust="spacingAndGlyphs">C/U 2008 INVESTMENT TRUST</text>
<text x="2168" y="1501" class="b m gb" textLength="194" lengthAdjust="spacingAndGlyphs">ASSETS $250,238,000</text>
<text x="2050" y="1528" class="z g" textLength="74" lengthAdjust="spacingAndGlyphs">25.2215%</text><text x="2148" y="1528" class="z g" textLength="44" lengthAdjust="spacingAndGlyphs">CO #8</text><text x="2292" y="1528" class="z e g" textLength="49" lengthAdjust="spacingAndGlyphs">(2010)</text>
<text x="2050" y="1554" class="z g" textLength="74" lengthAdjust="spacingAndGlyphs">25.2215%</text><text x="2148" y="1554" class="z g" textLength="54" lengthAdjust="spacingAndGlyphs">CO #10</text><text x="2292" y="1554" class="z e g" textLength="72" lengthAdjust="spacingAndGlyphs">(2011-12)</text>
<text x="2050" y="1579" class="z g" textLength="74" lengthAdjust="spacingAndGlyphs">25.2215%</text><text x="2148" y="1579" class="z g" textLength="44" lengthAdjust="spacingAndGlyphs">CO #1</text><text x="2292" y="1579" class="z e g" textLength="49" lengthAdjust="spacingAndGlyphs">(2015)</text>
<text x="2050" y="1605" class="z g" textLength="74" lengthAdjust="spacingAndGlyphs">25.2215%</text><text x="2148" y="1605" class="z g" textLength="44" lengthAdjust="spacingAndGlyphs">CO #2</text><text x="2292" y="1605" class="z e g" textLength="49" lengthAdjust="spacingAndGlyphs">(2015)</text>
<text x="2050" y="1631" class="z g" textLength="8" lengthAdjust="spacingAndGlyphs">$</text><text x="2150" y="1631" class="z e g" textLength="61" lengthAdjust="spacingAndGlyphs">280,000</text><text x="2164" y="1631" class="z g" textLength="29" lengthAdjust="spacingAndGlyphs">N/R</text><text x="2292" y="1631" class="z e g" textLength="49" lengthAdjust="spacingAndGlyphs">(2016)</text>
<text x="2050" y="1658" class="z r" textLength="28" lengthAdjust="spacingAndGlyphs">N/P</text><text x="2110" y="1658" class="z r" textLength="8" lengthAdjust="spacingAndGlyphs">$</text><text x="2217" y="1658" class="z e r" textLength="75" lengthAdjust="spacingAndGlyphs">2,070,000</text><text x="2292" y="1658" class="z e r" textLength="49" lengthAdjust="spacingAndGlyphs">(2015)</text>
<text x="2047" y="1684" class="z g" textLength="45" lengthAdjust="spacingAndGlyphs">(3) UL</text><text x="2110" y="1684" class="z g" textLength="8" lengthAdjust="spacingAndGlyphs">$</text><text x="2217" y="1684" class="z e g" textLength="87" lengthAdjust="spacingAndGlyphs">20,000,000</text><text x="2292" y="1684" class="z e g" textLength="49" lengthAdjust="spacingAndGlyphs">(2012)</text>
<text x="2047" y="1710" class="z g" textLength="42" lengthAdjust="spacingAndGlyphs">TERM</text><text x="2110" y="1710" class="z g" textLength="8" lengthAdjust="spacingAndGlyphs">$</text><text x="2217" y="1710" class="z e g" textLength="77" lengthAdjust="spacingAndGlyphs">5,000,000</text><text x="2292" y="1710" class="z e g" textLength="49" lengthAdjust="spacingAndGlyphs">(2016)</text>
</g>
<g id="g3-total">
<rect class="pl" x="2679" y="1470" width="310" height="143"/><rect class="lg" x="2679" y="1470" width="310" height="72"/>
<text x="2834" y="1501" class="b m" textLength="97" lengthAdjust="spacingAndGlyphs">G-3 TOTAL</text>
<text x="2834" y="1529" class="b m" textLength="140" lengthAdjust="spacingAndGlyphs">$1,037,934,310</text>
<text x="2703" y="1572" textLength="8" lengthAdjust="spacingAndGlyphs">$</text>
<text x="2722" y="1572" textLength="94" lengthAdjust="spacingAndGlyphs">65,811,060</text>
<text x="2830" y="1572" textLength="77" lengthAdjust="spacingAndGlyphs">TAXABLE</text>
<text x="2971" y="1572" class="e" textLength="51" lengthAdjust="spacingAndGlyphs">6.34%</text>
<text x="2703" y="1600" class="g" textLength="115" lengthAdjust="spacingAndGlyphs">$972,123,250</text>
<text x="2830" y="1600" class="g" textLength="33" lengthAdjust="spacingAndGlyphs">GST</text>
<text x="2971" y="1600" class="g e" textLength="60" lengthAdjust="spacingAndGlyphs">93.66%</text>
</g>
</svg>
